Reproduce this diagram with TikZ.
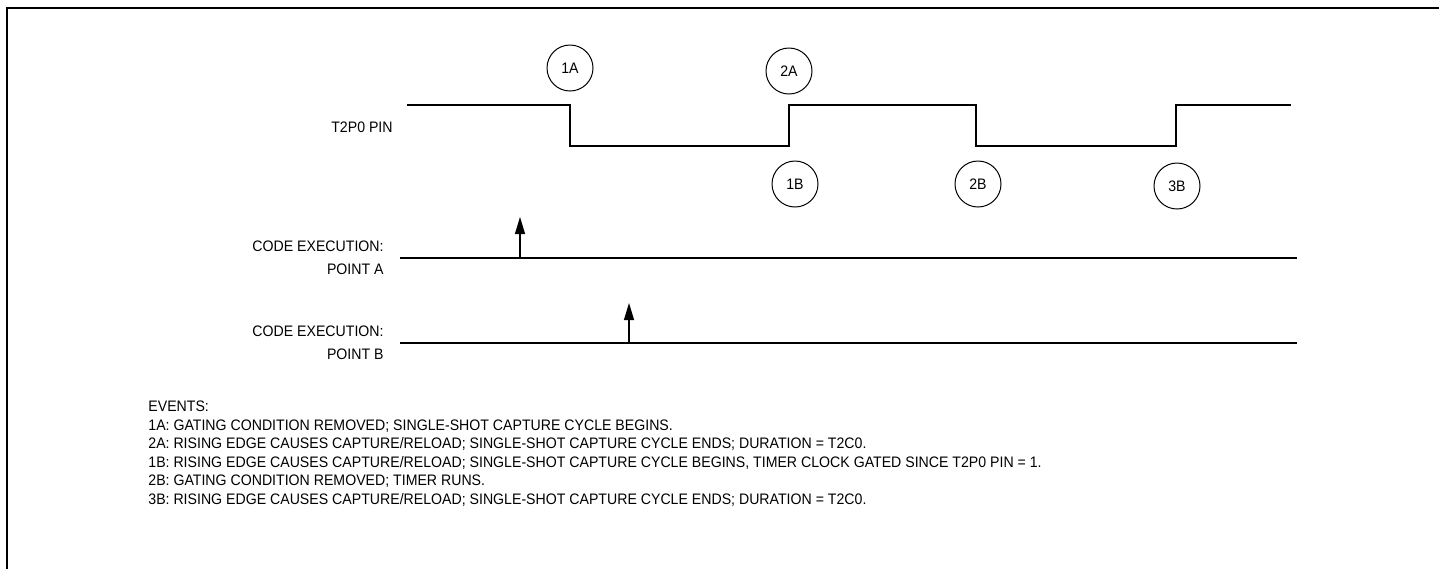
\documentclass[tikz,border=0pt]{standalone}
\usepackage{fontspec}
\setmainfont[FakeStretch=0.93]{Liberation Sans}
\usetikzlibrary{arrows.meta}
\tikzset{evt/.style={circle,draw,line width=.5pt,minimum size=23pt,inner sep=0pt,font=\fontsize{7.6}{8}\selectfont},
  sig/.style={line width=.7pt},
  lbl/.style={font=\fontsize{7.6}{11.5}\selectfont,inner sep=0pt},
  hit/.style={-{Triangle[length=8.5pt,width=5pt]},line width=.6pt}}

\begin{document}
\begin{tikzpicture}[x=.5pt,y=-.5pt]
  \path[use as bounding box] (0,0) rectangle (1439,569);
  \draw[line width=1pt] (1439,8) -- (7,8) -- (7,569);
  % pin waveform
  \node[lbl,anchor=east] (pin) at (393,127) {T2P0 PIN};
  \draw[sig] (407,105) -- (570,105) -- (570,146) -- (789,146) -- (789,105)
    -- (976,105) -- (976,146) -- (1176,146) -- (1176,105) -- (1291,105);
  \node[evt] (e1a) at (570,68) {1A};
  \node[evt] (e2a) at (789,71) {2A};
  \node[evt] (e1b) at (795,184) {1B};
  \node[evt] (e2b) at (978,184) {2B};
  \node[evt] (e3b) at (1177,186) {3B};
  % code execution
  \node[lbl,anchor=east,align=right] (cea) at (384,258) {CODE EXECUTION:\\POINT A};
  \node[lbl,anchor=east,align=right] (ceb) at (384,343) {CODE EXECUTION:\\POINT B};
  \coordinate (la) at (400,258); \coordinate (ra) at (1297,258);
  \coordinate (lb) at (400,343); \coordinate (rb) at (1297,343);
  \draw[sig] (la) -- (ra);
  \draw[sig] (lb) -- (rb);
  \coordinate (pa) at (520,258); \coordinate (pb) at (629,343);
  \draw[hit] (pa) -- ++(0,-41);
  \draw[hit] (pb) -- ++(0,-40);
  % events
  \foreach \t [count=\i from 0] in {EVENTS:,
    {1A: GATING CONDITION REMOVED; SINGLE-SHOT CAPTURE CYCLE BEGINS.},
    {2A: RISING EDGE CAUSES CAPTURE/RELOAD; SINGLE-SHOT CAPTURE CYCLE ENDS; DURATION = T2C0.},
    {1B: RISING EDGE CAUSES CAPTURE/RELOAD; SINGLE-SHOT CAPTURE CYCLE BEGINS, TIMER CLOCK GATED SINCE T2P0 PIN = 1.},
    {2B: GATING CONDITION REMOVED; TIMER RUNS.},
    {3B: RISING EDGE CAUSES CAPTURE/RELOAD; SINGLE-SHOT CAPTURE CYCLE ENDS; DURATION = T2C0.}}
    \node[lbl,anchor=base west] (ev\i) at (148,{411.5+18.6*\i}) {\t};
\end{tikzpicture}
\end{document}
